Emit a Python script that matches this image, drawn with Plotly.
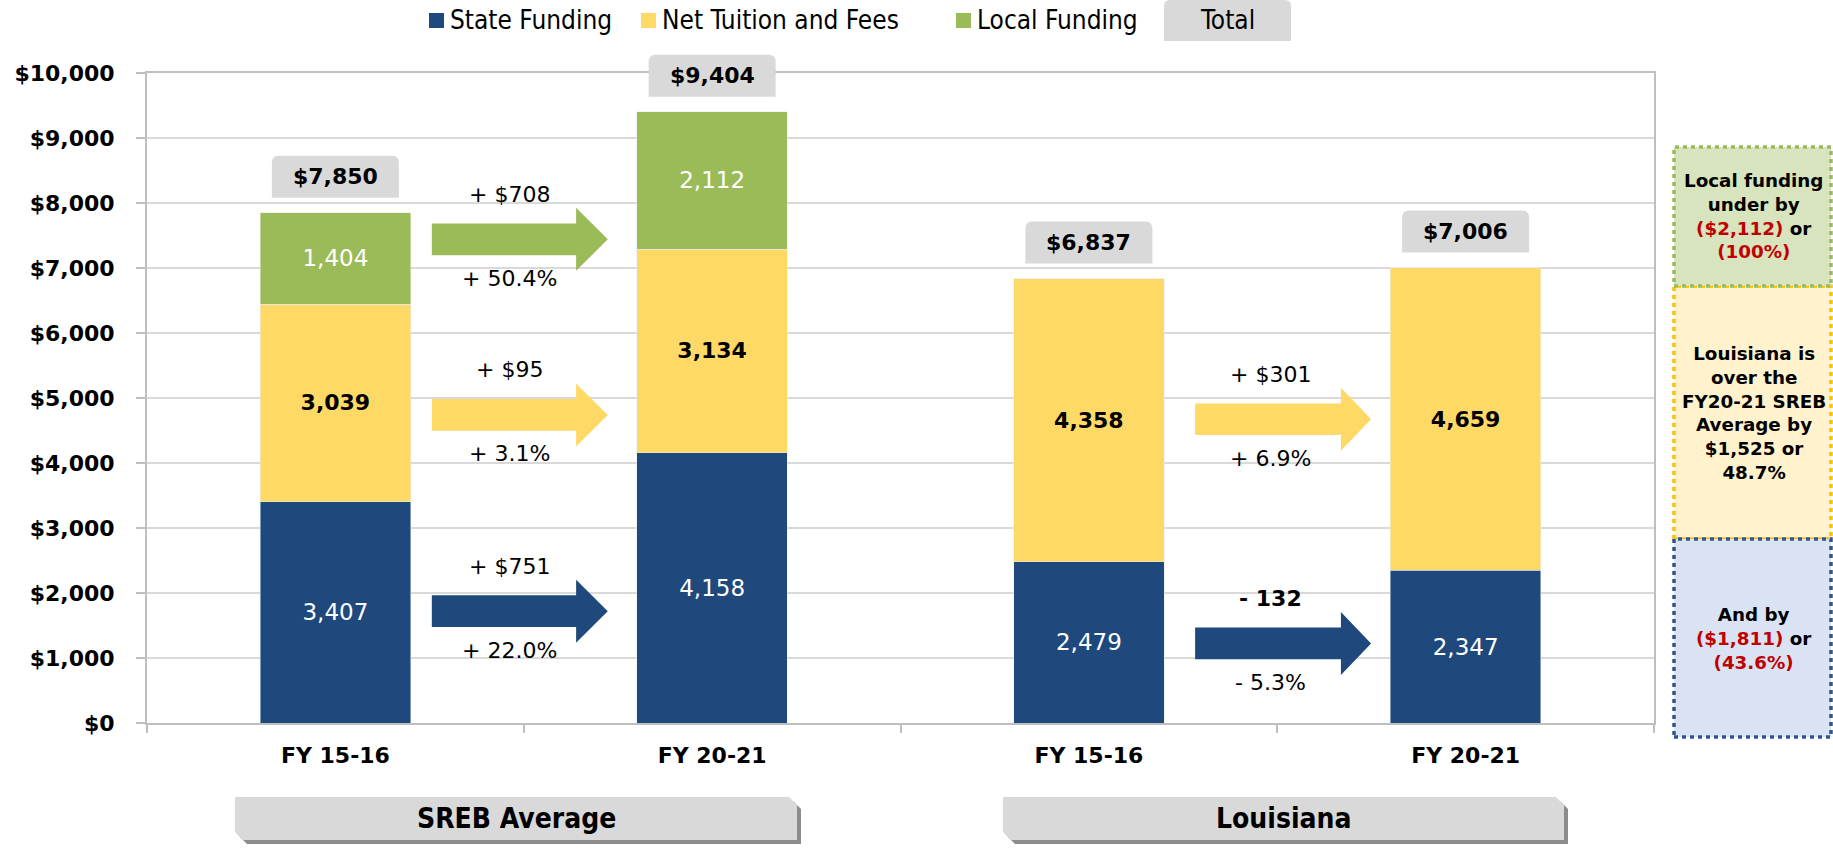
import plotly.graph_objects as go

# ---------------- data ----------------
categories = ["FY 15-16", "FY 20-21", "FY 15-16", "FY 20-21"]
groups = ["SREB Average", "Louisiana"]
state_funding = [3407, 4158, 2479, 2347]
net_tuition = [3039, 3134, 4358, 4659]
local_funding = [1404, 2112, 0, 0]
totals = [7850, 9404, 6837, 7006]
y_tick_values = [0, 1000, 2000, 3000, 4000, 5000, 6000, 7000, 8000, 9000, 10000]

# year-over-year changes (group, label above arrow, label below arrow)
change_group = [0, 0, 0, 1, 1]
change_series = ["local", "tuition", "state", "tuition", "state"]
change_top = ["+ $708", "+ $95", "+ $751", "+ $301", "- 132"]
change_bottom = ["+ 50.4%", "+ 3.1%", "+ 22.0%", "+ 6.9%", "- 5.3%"]
change_level = [7441, 4740, 1720, 4673, 1224]   # vertical level of each arrow

series_names = ["State Funding", "Net Tuition and Fees", "Local Funding"]
COL = {"state": "#1F497D", "tuition": "#FFD966", "local": "#9BBB59"}

# ---------------- layout constants ----------------
W, H = 1833, 849
L, R, T, B = 147, 179, 73, 126
PW, PH = W - L - R, H - T - B
XMIN, XMAX = -0.5, 3.5
YMIN, YMAX = 0, 10000
NUM = "DejaVu Sans"
COND = "DejaVu Sans Condensed, DejaVu Sans"


def px_x(px):
    return (px - L) / PW


def px_y(py):
    return (H - B - py) / PH


def dx(v):  # data x -> domain fraction
    return (v - XMIN) / (XMAX - XMIN)


def dy(v):
    return (v - YMIN) / (YMAX - YMIN)


x_idx = list(range(len(categories)))

fig = go.Figure()


def lbl(vals):
    return [f"{v:,}" if v else "" for v in vals]


fig.add_trace(go.Bar(x=x_idx, y=state_funding, name=series_names[0], marker_color=COL["state"],
                     text=lbl(state_funding), textposition="inside", insidetextanchor="middle",
                     textangle=0, textfont=dict(family=NUM, size=23, color="white")))
fig.add_trace(go.Bar(x=x_idx, y=net_tuition, name=series_names[1], marker_color=COL["tuition"],
                     text=lbl(net_tuition), textposition="inside", insidetextanchor="middle",
                     textangle=0, textfont=dict(family=NUM, size=22, color="black", weight="bold")))
fig.add_trace(go.Bar(x=x_idx, y=local_funding, name=series_names[2], marker_color=COL["local"],
                     text=lbl(local_funding), textposition="inside", insidetextanchor="middle",
                     textangle=0, textfont=dict(family=NUM, size=23, color="white")))

shapes = []
annotations = []


def paper_text(xp, yp, text, font, **kw):
    d = dict(x=px_x(xp), y=px_y(yp), xref="paper", yref="paper", text=text, showarrow=False,
             xanchor="center", yanchor="middle", font=font)
    d.update(kw)
    return d


# ---- total boxes above bars (rounded top corners) ----
bw_px, bh_px, gap_px, rad_px = 127, 42, 15, 7
for i, tot in enumerate(totals):
    cx = dx(i)
    hw = bw_px / 2 / PW
    y0 = dy(tot) + gap_px / PH
    y1 = y0 + bh_px / PH
    rx, ry = rad_px / PW, rad_px / PH
    path = (f"M {cx-hw},{y0} L {cx-hw},{y1-ry} Q {cx-hw},{y1} {cx-hw+rx},{y1} "
            f"L {cx+hw-rx},{y1} Q {cx+hw},{y1} {cx+hw},{y1-ry} L {cx+hw},{y0} Z")
    shapes.append(dict(type="path", path=path, xref="x domain", yref="y domain",
                       fillcolor="#D9D9D9", line=dict(width=0), layer="above"))
    annotations.append(dict(x=i, y=tot, xref="x", yref="y", text=f"<b>${tot:,}</b>",
                            showarrow=False, yshift=gap_px + bh_px / 2, yanchor="middle",
                            font=dict(family=NUM, size=22, color="black")))

# ---- arrows between years ----
arrow_geom = {0: (0.256, 0.639, 0.723, 0.461), 1: (2.282, 2.669, 2.749, 2.483)}
half_shaft, half_head = 244, 485
for k in range(len(change_top)):
    x0, xh, x1, xt = arrow_geom[change_group[k]]
    yc = change_level[k]
    path = (f"M {x0},{yc+half_shaft} L {xh},{yc+half_shaft} L {xh},{yc+half_head} L {x1},{yc} "
            f"L {xh},{yc-half_head} L {xh},{yc-half_shaft} L {x0},{yc-half_shaft} Z")
    shapes.append(dict(type="path", path=path, xref="x", yref="y",
                       fillcolor=COL[change_series[k]], line=dict(width=0), layer="above"))
    top_txt = change_top[k]
    if top_txt.startswith("-"):
        top_txt = f"<b>{top_txt}</b>"
    annotations.append(dict(x=xt, y=yc, xref="x", yref="y", text=top_txt, showarrow=False,
                            yshift=45, font=dict(family=NUM, size=22, color="black")))
    annotations.append(dict(x=xt, y=yc, xref="x", yref="y", text=change_bottom[k], showarrow=False,
                            yshift=-39, font=dict(family=NUM, size=22, color="black")))

# ---- manual legend ----
legend_items = [(series_names[0], COL["state"], 429), (series_names[1], COL["tuition"], 641),
                (series_names[2], COL["local"], 956)]
LEG_FONT = dict(family=COND, size=26, color="black")
for name, col, lx in legend_items:
    shapes.append(dict(type="rect", xref="paper", yref="paper", x0=px_x(lx), x1=px_x(lx + 15),
                       y0=px_y(28), y1=px_y(13), fillcolor=col, line=dict(width=0)))
    annotations.append(paper_text(lx + 19, 20, name, LEG_FONT, xanchor="left"))
tx0, tx1, ty0, ty1 = 1164, 1291, 41, 0
rx, ry = 6 / PW, 6 / PH
path = (f"M {px_x(tx0)},{px_y(ty0)} L {px_x(tx0)},{px_y(ty1)-ry} Q {px_x(tx0)},{px_y(ty1)} {px_x(tx0)+rx},{px_y(ty1)} "
        f"L {px_x(tx1)-rx},{px_y(ty1)} Q {px_x(tx1)},{px_y(ty1)} {px_x(tx1)},{px_y(ty1)-ry} L {px_x(tx1)},{px_y(ty0)} Z")
shapes.append(dict(type="path", path=path, xref="paper", yref="paper", fillcolor="#D9D9D9", line=dict(width=0)))
annotations.append(paper_text((tx0 + tx1) / 2, 20, "Total", LEG_FONT))

# ---- group label tabs ----
for g, (gx0, gx1) in zip(groups, [(235, 797), (1003, 1564)]):
    gy0, gy1, cut = 797, 840, 8
    for off, col in [(4, "rgba(0,0,0,0.45)"), (0, "#D9D9D9")]:
        pts = [(gx0 + off, gy0 + off), (gx1 - cut + off, gy0 + off), (gx1 + off, gy0 + cut + off),
               (gx1 + off, gy1 + off), (gx0 + cut + off, gy1 + off), (gx0 + off, gy1 - cut + off)]
        p = "M " + " L ".join(f"{px_x(a)},{px_y(b)}" for a, b in pts) + " Z"
        shapes.append(dict(type="path", path=p, xref="paper", yref="paper", fillcolor=col, line=dict(width=0)))
    annotations.append(paper_text((gx0 + gx1) / 2, (gy0 + gy1) / 2, f"<b>{g}</b>",
                                  dict(family=COND, size=28, color="black")))

# ---- side comment boxes ----
RED = "#C00000"
side_boxes = [
    (286, 539, "#FFF2CC", "#FFC000",
     "Louisiana is<br>over the<br>FY20-21 SREB<br>Average by<br>$1,525 or<br>48.7%"),
    (147, 286, "#D7E4BD", "#9BBB59",
     f"Local funding<br>under by<br><span style='color:{RED}'>($2,112)</span> or<br><span style='color:{RED}'>(100%)</span>"),
    (539, 737, "#DAE3F3", "#2F5597",
     f"And by<br><span style='color:{RED}'>($1,811)</span> or<br><span style='color:{RED}'>(43.6%)</span>"),
]
sx0, sx1 = 1674, 1831
for y0p, y1p, fill, border, txt in side_boxes:
    shapes.append(dict(type="rect", xref="paper", yref="paper", x0=px_x(sx0), x1=px_x(sx1),
                       y0=px_y(y1p), y1=px_y(y0p), fillcolor=fill,
                       line=dict(color=border, width=3.5, dash="4px,4px")))
    annotations.append(paper_text((sx0 + sx1) / 2 + 1, (y0p + y1p) / 2, f"<b>{txt}</b>",
                                  dict(family=NUM, size=18.3, color="black"), align="center"))

fig.update_layout(
    width=W, height=H,
    margin=dict(l=L, r=R, t=T, b=B, autoexpand=False),
    barmode="stack", bargap=0.6,
    showlegend=False,
    plot_bgcolor="white", paper_bgcolor="white",
    shapes=shapes, annotations=annotations,
    xaxis=dict(range=[XMIN, XMAX], tickmode="array", tickvals=x_idx, ticktext=[f"<b>{c}</b>" for c in categories],
               tickfont=dict(family=NUM, size=22, color="black"),
               ticks="outside", ticklen=8, tickcolor="rgba(0,0,0,0)", ticklabelstandoff=4,
               showline=True, linecolor="#BFBFBF", linewidth=2, mirror=True, showgrid=False, zeroline=False,
               minor=dict(tickmode="array", tickvals=[-0.5, 0.5, 1.5, 2.5, 3.5], ticks="outside",
                          ticklen=8, tickcolor="#BFBFBF", tickwidth=2, showgrid=False)),
    yaxis=dict(range=[YMIN, YMAX], tickmode="array", tickvals=y_tick_values,
               ticktext=[f"<b>${v:,}</b>" for v in y_tick_values],
               tickfont=dict(family=NUM, size=22, color="black"),
               ticks="outside", ticklen=9, tickcolor="#BFBFBF", tickwidth=2, ticklabelstandoff=17,
               showline=True, linecolor="#BFBFBF", linewidth=2, mirror=True,
               showgrid=True, gridcolor="#D9D9D9", gridwidth=2, zeroline=False),
)

fig.write_html("out.html", config={"displayModeBar": False},
               post_script="document.body.style.margin='0';document.body.style.overflow='hidden';")
